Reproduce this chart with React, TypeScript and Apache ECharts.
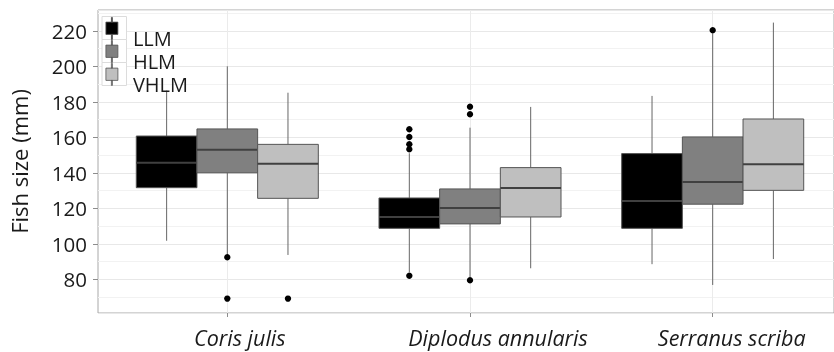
import React, { useEffect, useRef } from 'react';
import * as echarts from 'echarts';

const categories = ['Coris julis', 'Diplodus annularis', 'Serranus scriba'];
// horizontal shift of each category label (px) as seen in the reference
const labelShift = [12.5, 28, 19];
const groups = ['LLM', 'HLM', 'VHLM'];
const groupColors = ['#000000', '#808080', '#bfbfbf'];

// per category: [lower whisker, Q1, median, Q3, upper whisker]
const llmBoxes = [
  [101.7, 131.6, 145.7, 160.7, 186.3],
  [84, 108.7, 115.1, 125.8, 151],
  [88.5, 108.7, 124.1, 150.8, 183.3],
];
const hlmBoxes = [
  [93, 140, 153, 164.7, 200],
  [81, 111.2, 120.2, 130.9, 165.4],
  [76.8, 122.3, 134.8, 160.2, 218.5],
];
const vhlmBoxes = [
  [93.7, 125.6, 145.1, 156, 185.1],
  [86.2, 115.1, 131.4, 142.9, 177.1],
  [91.4, 130.1, 144.8, 170.3, 224.6],
];

// outliers: [category index, value]
const llmOutliers = [[1, 153.3], [1, 156.1], [1, 160.2], [1, 164.5], [1, 82]];
const hlmOutliers = [[0, 92.4], [0, 69.1], [1, 173], [1, 177.2], [1, 79.4], [2, 220.3]];
const vhlmOutliers = [[0, 69.1]];

const yMin = 61;
const yMax = 231.7;
const yMajorStep = 20;
const yMinorStep = 10;

const FONT = 'Open Sans';

const boxSets = [llmBoxes, hlmBoxes, vhlmBoxes];
const outlierSets = [llmOutliers, hlmOutliers, vhlmOutliers];

// box glyph in the upper 22px; invisible move-to points widen the symbol box so the
// label sits lower and further right, as in the reference legend
const legendIcon = 'path://M5.5 0h1v4.7h-1z M0 4.7h12v12.3h-12z M5.5 17h1v5h-1z M22 42 M0 42';

export default function App() {
  const ref = useRef<HTMLDivElement>(null);

  useEffect(() => {
    document.body.style.margin = '0';
    if (!ref.current) return;
    const chart = echarts.init(ref.current, undefined, { renderer: 'svg' });

    const boxSeries = groups.map((g, slot) => ({
      type: 'custom',
      name: g,
      xAxisIndex: 1,
      yAxisIndex: 2,
      clip: false,
      z: 3,
      itemStyle: { color: groupColors[slot], borderColor: '#555555' },
      encode: { x: 0, y: [1, 2, 3, 4, 5] },
      data: boxSets[slot].map((b, i) => [i, ...b]),
      renderItem: (params: any, api: any) => {
        const cat = api.value(0);
        const low = api.value(1);
        const q1 = api.value(2);
        const med = api.value(3);
        const q3 = api.value(4);
        const high = api.value(5);
        const band = api.size([1, 0])[0];
        const w = band * 0.25;
        const cx = api.coord([cat, med])[0] + (slot - 1) * w;
        const yLow = api.coord([cat, low])[1];
        const yQ1 = api.coord([cat, q1])[1];
        const yMed = api.coord([cat, med])[1];
        const yQ3 = api.coord([cat, q3])[1];
        const yHigh = api.coord([cat, high])[1];
        return {
          type: 'group',
          children: [
            { type: 'line', shape: { x1: cx, y1: yHigh, x2: cx, y2: yQ3 }, style: { stroke: '#666666', lineWidth: 1 } },
            { type: 'line', shape: { x1: cx, y1: yQ1, x2: cx, y2: yLow }, style: { stroke: '#666666', lineWidth: 1 } },
            {
              type: 'rect',
              shape: { x: cx - w / 2, y: yQ3, width: w, height: yQ1 - yQ3 },
              style: { fill: groupColors[slot], stroke: '#555555', lineWidth: 1 },
            },
            {
              type: 'line',
              shape: { x1: cx - w / 2, y1: yMed, x2: cx + w / 2, y2: yMed },
              style: { stroke: '#404040', lineWidth: 2 },
            },
          ],
        };
      },
    }));

    const outlierSeries = groups.map((g, slot) => ({
      type: 'custom',
      name: g,
      xAxisIndex: 1,
      yAxisIndex: 2,
      clip: false,
      z: 4,
      itemStyle: { color: groupColors[slot] },
      encode: { x: 0, y: 1 },
      data: outlierSets[slot],
      renderItem: (params: any, api: any) => {
        const cat = api.value(0);
        const v = api.value(1);
        const band = api.size([1, 0])[0];
        const w = band * 0.25;
        const p = api.coord([cat, v]);
        return {
          type: 'circle',
          shape: { cx: p[0] + (slot - 1) * w, cy: p[1], r: 3.2 },
          style: { fill: '#000000' },
        };
      },
    }));

    const option: any = {
      animation: false,
      grid: [
        { left: 93, right: -2, top: 10, bottom: 39, show: true, borderColor: '#a8a8a8', borderWidth: 1, backgroundColor: '#ffffff' },
        { left: 227.3, right: 121.3, top: 10, bottom: 39 },
      ],
      xAxis: [
        { type: 'value', gridIndex: 0, min: 0, max: 1, show: false },
        {
          type: 'category',
          gridIndex: 1,
          boundaryGap: false,
          data: categories.map((c, i) => ({
            value: c,
            textStyle: { padding: [0, 0, 0, labelShift[i] * 2] },
          })),
          axisLine: { show: false },
          axisTick: { show: true, length: 4, lineStyle: { color: '#8c8c8c' } },
          axisLabel: { fontFamily: FONT, fontSize: 21.5, fontStyle: 'italic', color: '#1a1a1a', margin: 13 },
          splitLine: { show: true, lineStyle: { color: '#ebebeb', width: 1 } },
        },
      ],
      yAxis: [
        {
          type: 'value',
          gridIndex: 0,
          position: 'left',
          min: yMin,
          max: yMax,
          minInterval: yMinorStep,
          maxInterval: yMinorStep,
          axisLine: { show: false },
          axisTick: { show: false },
          axisLabel: { show: false },
          splitLine: { show: true, lineStyle: { color: '#f2f2f2', width: 1 } },
        },
        {
          type: 'value',
          gridIndex: 0,
          position: 'left',
          min: yMin,
          max: yMax,
          minInterval: yMajorStep,
          maxInterval: yMajorStep,
          name: 'Fish size (mm)',
          nameLocation: 'middle',
          nameRotate: 90,
          nameGap: 68,
          nameTextStyle: { fontFamily: FONT, fontSize: 22, color: '#1a1a1a' },
          axisLine: { show: false },
          axisTick: { show: true, length: 5, lineStyle: { color: '#8c8c8c' } },
          axisLabel: { fontFamily: FONT, fontSize: 20.5, color: '#1a1a1a', margin: 11, showMinLabel: false, showMaxLabel: false },
          splitLine: { show: true, lineStyle: { color: '#e8e8e8', width: 1 } },
        },
        { type: 'value', gridIndex: 1, min: yMin, max: yMax, show: false, splitLine: { show: false } },
      ],
      legend: groups.map((g, i) => ({
        data: [g],
        orient: 'vertical',
        left: 105.5,
        top: 17 + i * 23,
        padding: 0,
        itemWidth: 22,
        itemHeight: 42,
        icon: legendIcon,
        selectedMode: false,
        z: 6,
        itemStyle: { borderColor: '#555555', borderWidth: 0.8 },
        textStyle: { fontFamily: FONT, fontSize: 20, color: '#1a1a1a', lineHeight: 20 },
      })),
      graphic: groups.map((g, i) => ({
        type: 'rect',
        z: 5,
        shape: { x: 102, y: 16.5 + i * 23, width: 24.5, height: 23 },
        style: { fill: '#ffffff', stroke: '#dcdcdc', lineWidth: 1 },
      })),
      series: [...boxSeries, ...outlierSeries],
    };

    chart.setOption(option);
    return () => chart.dispose();
  }, []);

  return <div ref={ref} style={{ position: 'fixed', left: 0, top: 0, width: 834, height: 352 }} />;
}
